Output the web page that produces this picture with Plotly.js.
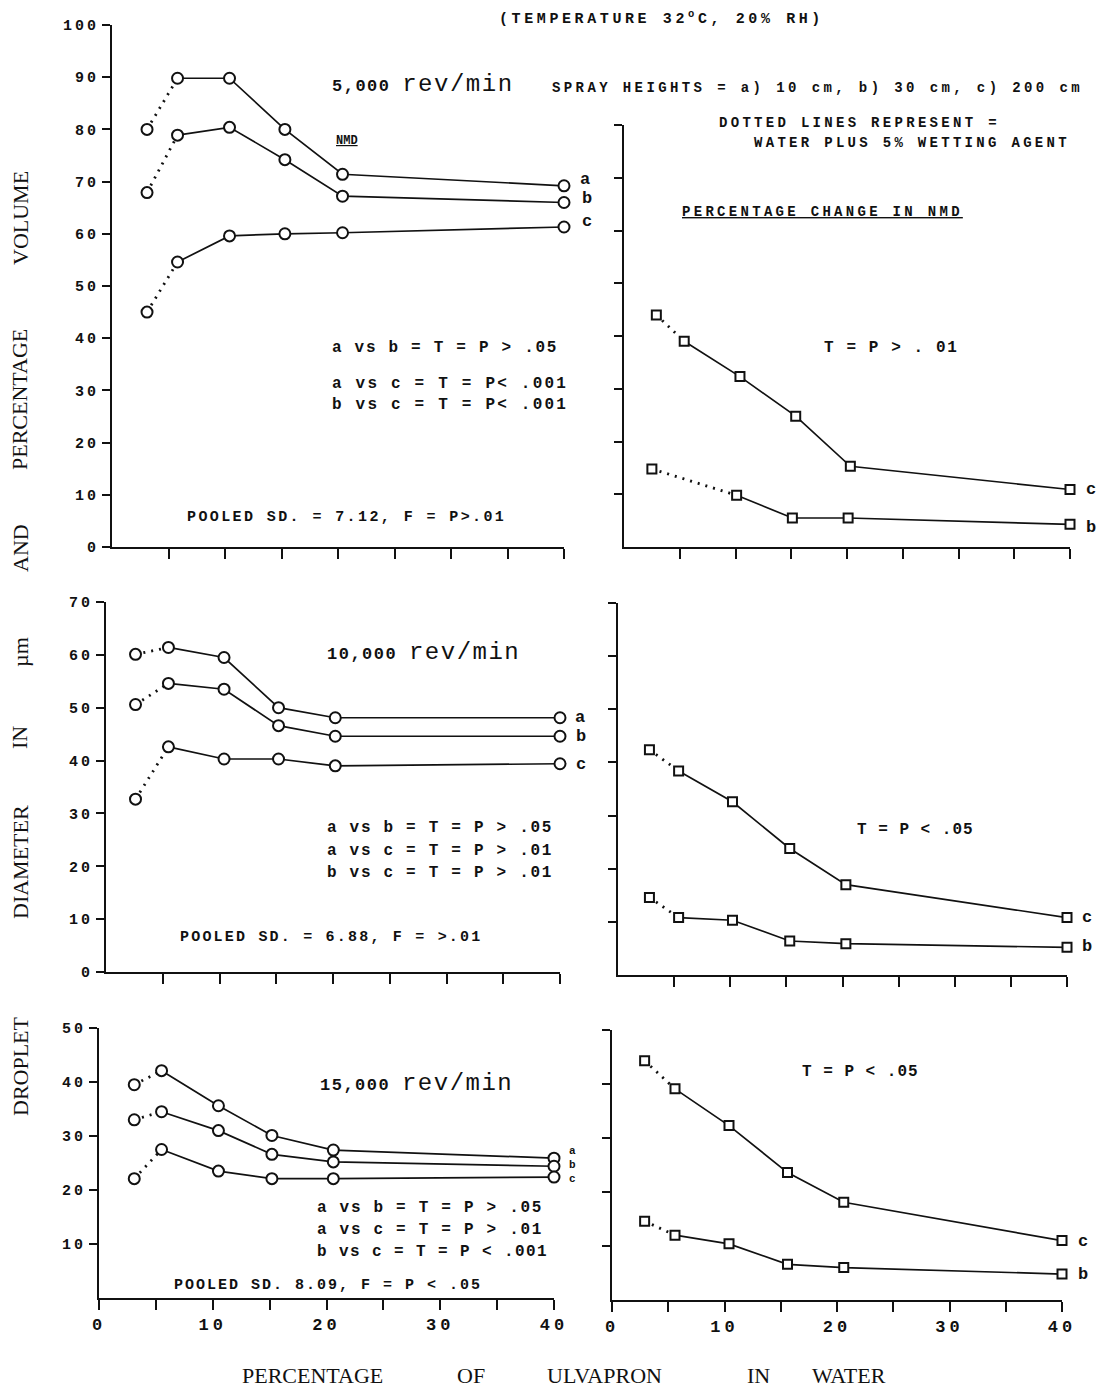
<!DOCTYPE html>
<html><head><meta charset="utf-8">
<script src="https://cdn.plot.ly/plotly-3.0.1.min.js"></script>
<style>html,body{margin:0;padding:0;background:#fff}</style>
</head><body>
<div id="chart" style="width:1102px;height:1393px"></div>
<script>
// ---------------- DATA ----------------
// 5,000 rev/min : NMD (µm)
const tlX = [3.1, 5.8, 10.4, 15.3, 20.4, 40];
const tlA = [80.0, 89.8, 89.8, 80.0, 71.4, 69.2];
const tlB = [67.9, 78.9, 80.4, 74.2, 67.2, 66.0];
const tlC = [45.0, 54.6, 59.6, 60.0, 60.2, 61.3];
// 5,000 rev/min : percentage change in NMD
const trXc = [2.9, 5.4, 10.4, 15.4, 20.3, 40];
const trC  = [44.0, 39.0, 32.3, 24.8, 15.3, 10.9];
const trXb = [2.5, 10.1, 15.1, 20.1, 40];
const trB  = [14.8, 9.8, 5.5, 5.5, 4.3];
// 10,000 rev/min : NMD (µm)
const mlX = [2.6, 5.5, 10.4, 15.2, 20.2, 40];
const mlA = [60.1, 61.4, 59.5, 50.0, 48.1, 48.1];
const mlB = [50.6, 54.6, 53.5, 46.6, 44.6, 44.6];
const mlC = [32.7, 42.6, 40.3, 40.3, 39.0, 39.4];
// 10,000 rev/min : percentage change in NMD
const mrX = [2.8, 5.4, 10.2, 15.3, 20.3, 40];
const mrC = [42.4, 38.4, 32.6, 23.8, 17.0, 10.8];
const mrB = [14.6, 10.8, 10.3, 6.4, 5.9, 5.2];
// 15,000 rev/min : NMD (µm)
const blX = [3.1, 5.5, 10.5, 15.2, 20.6, 40];
const blA = [39.5, 42.1, 35.6, 30.1, 27.4, 25.9];
const blB = [33.0, 34.5, 31.0, 26.6, 25.2, 24.4];
const blC = [22.1, 27.5, 23.5, 22.1, 22.1, 22.4];
// 15,000 rev/min : percentage change in NMD
const brX = [2.9, 5.6, 10.4, 15.6, 20.6, 40];
const brC = [44.3, 39.1, 32.3, 23.6, 18.1, 11.0];
const brB = [14.6, 12.0, 10.4, 6.6, 6.0, 4.8];

// tick values / labels
const xTickVals = [5, 10, 15, 20, 25, 30, 35, 40];
const xLabelVals = [0, 10, 20, 30, 40];
const xLabelText = ['0', '10', '20', '30', '40'];
const xMinorVals = [5, 15, 25, 35];
const yTickValsTL = [0, 10, 20, 30, 40, 50, 60, 70, 80, 90, 100];
const yTickTextTL = ['0', '10', '20', '30', '40', '50', '60', '70', '80', '90', '100'];
const yTickValsTR = [10, 20, 30, 40, 50, 60, 70, 80];
const yTickValsML = [0, 10, 20, 30, 40, 50, 60, 70];
const yTickTextML = ['0', '10', '20', '30', '40', '50', '60', '70'];
const yTickValsMR = [10, 20, 30, 40, 50, 60, 70];
const yTickValsBL = [10, 20, 30, 40, 50];
const yTickTextBL = ['10', '20', '30', '40', '50'];
const yTickValsBR = [10, 20, 30, 40, 50];

// ---------------- LAYOUT HELPERS ----------------
const W = 1102, H = 1393;
const INK = '#111111';
const MONO = 'Liberation Mono, Courier New, monospace';
const SERIF = 'Liberation Serif, Times New Roman, serif';
const fx = p => p / W;
const fy = p => 1 - p / H;
const spaced = (t, ls) => '<span style="letter-spacing:' + ls + 'px">' + t + '</span>';

// panel geometry in pixels: x=0 and x=40 positions, y=0 and y=max positions
const panels = [
  {n: '',  x0: 112, x40: 564,  y0: 547,  yT: 25,   ymax: 100, yv: yTickValsTL, yt: yTickTextTL, bottom: false},
  {n: '2', x0: 624, x40: 1070, y0: 547,  yT: 125,  ymax: 80,  yv: yTickValsTR, yt: null, bottom: false},
  {n: '3', x0: 106, x40: 560,  y0: 972,  yT: 602,  ymax: 70,  yv: yTickValsML, yt: yTickTextML, bottom: false},
  {n: '4', x0: 618, x40: 1067, y0: 975,  yT: 603,  ymax: 70,  yv: yTickValsMR, yt: null, bottom: false},
  {n: '5', x0: 99,  x40: 554,  y0: 1298, yT: 1028, ymax: 50,  yv: yTickValsBL, yt: yTickTextBL, bottom: true},
  {n: '6', x0: 612, x40: 1062, y0: 1300, yT: 1030, ymax: 50,  yv: yTickValsBR, yt: null, bottom: true}
];

const layout = {
  width: W, height: H,
  margin: {l: 0, r: 0, t: 0, b: 0},
  paper_bgcolor: '#ffffff', plot_bgcolor: 'rgba(0,0,0,0)',
  showlegend: false,
  font: {family: MONO, color: INK},
  annotations: []
};

const axCommon = {
  showgrid: false, zeroline: false, showline: true,
  linecolor: INK, linewidth: 2, mirror: false,
  ticks: 'outside', tickwidth: 2, tickcolor: INK,
  fixedrange: true
};

panels.forEach(p => {
  const xa = 'x' + p.n, ya = 'y' + p.n;
  const xCfg = {
    domain: [fx(p.x0), fx(p.x40)], range: [0, 40], anchor: ya,
    tickmode: 'array', ticklen: 10,
    tickfont: {family: MONO, size: 17, color: INK, weight: 'bold'}
  };
  if (p.bottom) {
    Object.assign(xCfg, {
      tickvals: xLabelVals, ticktext: xLabelText.map(t => spaced(t, 4)), showticklabels: true,
      minor: {tickmode: 'array', tickvals: xMinorVals, ticks: 'outside', ticklen: 10,
              tickwidth: 2, tickcolor: INK, showgrid: false}
    });
  } else {
    Object.assign(xCfg, {tickvals: xTickVals, showticklabels: false});
  }
  layout['xaxis' + p.n] = Object.assign({}, axCommon, xCfg);
  layout['yaxis' + p.n] = Object.assign({}, axCommon, {
    domain: [fy(p.y0), fy(p.yT)], range: [0, p.ymax], anchor: xa,
    tickmode: 'array', tickvals: p.yv,
    ticktext: p.yt ? p.yt.map(t => spaced(t, 3)) : undefined,
    showticklabels: !!p.yt, ticklen: 8,
    tickfont: {family: MONO, size: 15, color: INK, weight: 'bold'}
  });
});

// ---------------- TRACES ----------------
const traces = [];
function series(xs, ys, n, symbol) {
  const xa = 'x' + n, ya = 'y' + n;
  const mk = {symbol: symbol, size: symbol === 'square' ? 9 : 11, color: '#ffffff',
              line: {color: INK, width: 2}};
  traces.push({x: xs.slice(0, 2), y: ys.slice(0, 2), xaxis: xa, yaxis: ya,
    type: 'scatter', mode: 'lines', cliponaxis: false, hoverinfo: 'skip',
    line: {color: INK, width: 2.8, dash: '2px,6px'}});
  traces.push({x: xs.slice(1), y: ys.slice(1), xaxis: xa, yaxis: ya,
    type: 'scatter', mode: 'lines', cliponaxis: false, hoverinfo: 'skip',
    line: {color: INK, width: 1.7}});
  traces.push({x: xs, y: ys, xaxis: xa, yaxis: ya,
    type: 'scatter', mode: 'markers', cliponaxis: false, hoverinfo: 'skip', marker: mk});
}
series(tlX, tlA, '', 'circle');
series(tlX, tlB, '', 'circle');
series(tlX, tlC, '', 'circle');
series(trXc, trC, '2', 'square');
series(trXb, trB, '2', 'square');
series(mlX, mlA, '3', 'circle');
series(mlX, mlB, '3', 'circle');
series(mlX, mlC, '3', 'circle');
series(mrX, mrC, '4', 'square');
series(mrX, mrB, '4', 'square');
series(blX, blA, '5', 'circle');
series(blX, blB, '5', 'circle');
series(blX, blC, '5', 'circle');
series(brX, brC, '6', 'square');
series(brX, brB, '6', 'square');

// ---------------- TEXT ----------------
function note(text, x, y, size, ls, opts) {
  layout.annotations.push(Object.assign({
    text: ls ? spaced(text, ls) : text,
    x: fx(x), y: fy(y), xref: 'paper', yref: 'paper',
    xanchor: 'left', yanchor: 'middle', showarrow: false,
    font: {family: MONO, size: size, color: INK, weight: 'bold'}
  }, opts || {}));
}

note('(TEMPERATURE 32<sup>o</sup>C, 20% RH)', 497, 18, 15, 3.6);
note('5,000 <span style="font-size:24px;font-weight:normal">rev/min</span>', 330, 84, 17, 1.5);
note('SPRAY HEIGHTS = a) 10 cm, b) 30 cm, c) 200 cm', 550, 88, 14, 3.4);
note('<u>NMD</u>', 334, 141, 12, 0);
note('DOTTED LINES REPRESENT =', 717, 123, 14, 3.3);
note('WATER PLUS 5% WETTING AGENT', 752, 143, 14, 3.3);
note('<u>PERCENTAGE CHANGE IN NMD</u>', 680, 212, 14, 3.3);

note('a vs b = T = P &gt; .05', 330, 348, 16, 1.7);
note('a vs c = T = P&lt; .001', 330, 384, 16, 2.2);
note('b vs c = T = P&lt; .001', 330, 405, 16, 2.2);
note('POOLED SD. = 7.12, F = P&gt;.01', 185, 517, 15, 2.4);
note('T = P &gt; . 01', 822, 348, 16, 1.6);

note('10,000 <span style="font-size:24px;font-weight:normal">rev/min</span>', 325, 652, 17, 1.5);
note('a vs b = T = P &gt; .05', 325, 828, 16, 1.7);
note('a vs c = T = P &gt; .01', 325, 851, 16, 1.7);
note('b vs c = T = P &gt; .01', 325, 873, 16, 1.7);
note('POOLED SD. = 6.88, F = &gt;.01', 178, 937, 15, 2.2);
note('T = P &lt; .05', 855, 830, 16, 1.0);

note('15,000 <span style="font-size:24px;font-weight:normal">rev/min</span>', 318, 1083, 17, 1.5);
note('a vs b = T = P &gt; .05', 315, 1208, 16, 1.7);
note('a vs c = T = P &gt; .01', 315, 1230, 16, 1.7);
note('b vs c = T = P &lt; .001', 315, 1252, 16, 1.4);
note('POOLED SD. 8.09, F = P &lt; .05', 172, 1285, 15, 2.0);
note('T = P &lt; .05', 800, 1072, 16, 1.0);

// series end labels
[['a', 578, 179], ['b', 580, 198], ['c', 580, 222],
 ['c', 1084, 490], ['b', 1084, 527],
 ['a', 573, 717], ['b', 574, 736], ['c', 574, 764],
 ['c', 1080, 917], ['b', 1080, 946],
 ['c', 1076, 1241], ['b', 1076, 1274]].forEach(l => note(l[0], l[1], l[2], 17, 0));
[['a', 567, 1151], ['b', 567, 1165], ['c', 567, 1179]].forEach(l => note(l[0], l[1], l[2], 11, 0));

// x axis title (words spread out)
[['PERCENTAGE', 240], ['OF', 455], ['ULVAPRON', 545], ['IN', 745], ['WATER', 810]].forEach(w =>
  layout.annotations.push({text: w[0], x: fx(w[1]), y: fy(1375), xref: 'paper', yref: 'paper',
    xanchor: 'left', yanchor: 'middle', showarrow: false,
    font: {family: SERIF, size: 22, color: INK}}));

// y axis title (rotated, words spread out)
[['VOLUME', 218], ['PERCENTAGE', 400], ['AND', 548], ['µm', 652], ['IN', 738],
 ['DIAMETER', 862], ['DROPLET', 1066]].forEach(w =>
  layout.annotations.push({text: w[0], x: fx(20), y: fy(w[1]), xref: 'paper', yref: 'paper',
    xanchor: 'center', yanchor: 'middle', showarrow: false, textangle: -90,
    font: {family: SERIF, size: 22, color: INK}}));

Plotly.newPlot('chart', traces, layout, {staticPlot: true, displayModeBar: false});
</script>
</body></html>
